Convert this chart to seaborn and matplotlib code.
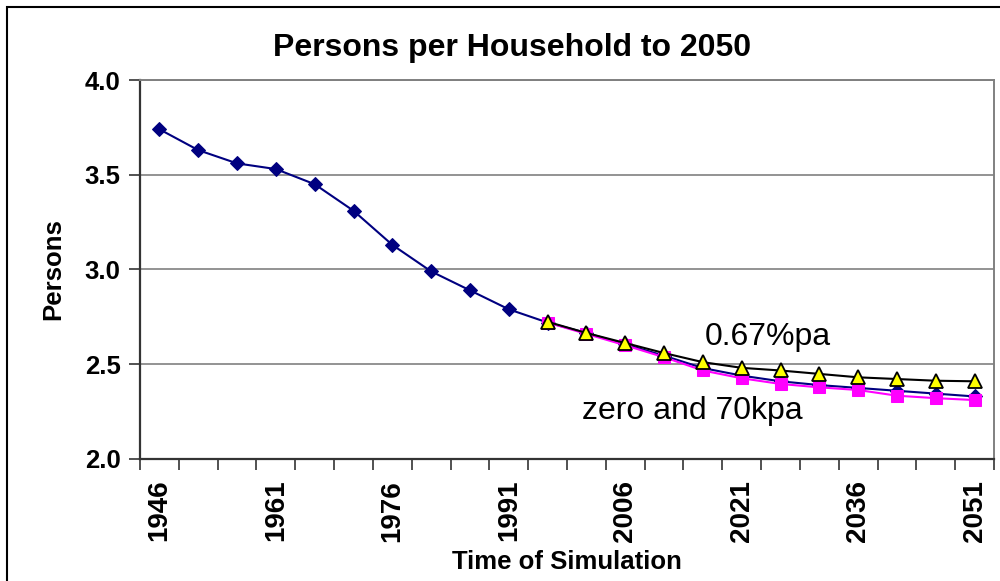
import matplotlib
matplotlib.use("Agg")
import matplotlib.pyplot as plt
from matplotlib.patches import Rectangle
from matplotlib.ticker import FixedLocator, NullFormatter
import seaborn as sns
import pandas as pd

# Census years and projections, five-year steps
years = list(range(1946, 2052, 5))
proj_years = list(range(1996, 2052, 5))

# Persons per household: history plus zero-migration projection
zero_migration = [3.74, 3.63, 3.56, 3.53, 3.45, 3.31, 3.13, 2.99, 2.89, 2.79,
                  2.72, 2.665, 2.605, 2.545, 2.48, 2.44, 2.41, 2.39, 2.375,
                  2.36, 2.345, 2.33]
# 70k per annum migration projection
migration_70k = [2.72, 2.66, 2.60, 2.537, 2.467, 2.426, 2.396, 2.378, 2.364,
                 2.334, 2.321, 2.311]
# 0.67% per annum growth projection
growth_067 = [2.724, 2.665, 2.612, 2.559, 2.511, 2.481, 2.467, 2.449, 2.431,
              2.422, 2.413, 2.410]

label_years = [1946, 1961, 1976, 1991, 2006, 2021, 2036, 2051]
y_ticks = [2.0, 2.5, 3.0, 3.5, 4.0]

sns.set_theme(style="white")
plt.rcParams["font.family"] = ["Liberation Sans", "DejaVu Sans"]
plt.rcParams["text.color"] = "black"
plt.rcParams["axes.labelcolor"] = "black"
plt.rcParams["xtick.color"] = "black"
plt.rcParams["ytick.color"] = "black"

fig = plt.figure(figsize=(10, 5.81), dpi=100)
ax = fig.add_axes([0.14, 0.21, 0.854, 0.6523])

df_zero = pd.DataFrame({"year": years, "persons": zero_migration})
df_70k = pd.DataFrame({"year": proj_years, "persons": migration_70k})
df_067 = pd.DataFrame({"year": proj_years, "persons": growth_067})

sns.lineplot(data=df_zero, x="year", y="persons", ax=ax, color="#000080",
             marker="D", markersize=6.8, markeredgecolor="#000080",
             linewidth=1.5, zorder=3)
sns.lineplot(data=df_70k, x="year", y="persons", ax=ax, color="#FF00FF",
             marker="s", markersize=8.5, markeredgecolor="#FF00FF",
             linewidth=1.5, zorder=4)
sns.lineplot(data=df_067, x="year", y="persons", ax=ax, color="black",
             marker="^", markersize=9.5, markerfacecolor="#FFFF00",
             markeredgecolor="black", markeredgewidth=1.3,
             linewidth=1.5, zorder=5)

ax.set_xlim(1943.5, 2053.5)
ax.set_ylim(2.0, 4.0)

# Horizontal gridlines
ax.set_yticks(y_ticks)
ax.set_yticklabels([f"{v:.1f}" for v in y_ticks])
for v in y_ticks[1:]:
    ax.axhline(v, color="#808080", linewidth=1.2, zorder=1)

# Category boundaries carry the tick marks; labels sit on every third year
ax.set_xticks(label_years)
ax.set_xticklabels([str(y) for y in label_years], rotation=90,
                   fontsize=20, fontweight="bold")
ax.xaxis.set_minor_locator(FixedLocator([1943.5 + 5 * i for i in range(23)]))
ax.xaxis.set_minor_formatter(NullFormatter())
ax.tick_params(axis="x", which="major", length=0, pad=15)
ax.tick_params(axis="x", which="minor", length=8, width=1.2,
               color="#333333", direction="out", bottom=True)
ax.tick_params(axis="y", which="major", length=8, width=1.2,
               color="#333333", direction="out", left=True,
               labelsize=18.5, pad=6)
for lab in ax.get_yticklabels():
    lab.set_fontweight("bold")

for side in ["left", "bottom"]:
    ax.spines[side].set_color("#333333")
    ax.spines[side].set_linewidth(1.6)
for side in ["top", "right"]:
    ax.spines[side].set_visible(True)
    ax.spines[side].set_color("#808080")
    ax.spines[side].set_linewidth(1.4)

ax.set_xlabel("Time of Simulation", fontsize=18.5, fontweight="bold",
              labelpad=6)
ax.set_ylabel("Persons", fontsize=18.5, fontweight="bold", labelpad=14)
fig.text(0.512, 0.917, "Persons per Household to 2050", fontsize=23,
         fontweight="bold", ha="center", va="center")

ax.text(2024.4, 2.60, "0.67%pa", fontsize=23, ha="center", va="baseline")
ax.text(2014.6, 2.21, "zero and 70kpa", fontsize=23, ha="center",
        va="baseline")

# Outer chart frame
fig.patches.append(Rectangle((0.007, -0.1), 1.2, 1.1 - 0.012, fill=False,
                             edgecolor="black", linewidth=1.5,
                             transform=fig.transFigure))

fig.savefig("out.png", dpi=100)
